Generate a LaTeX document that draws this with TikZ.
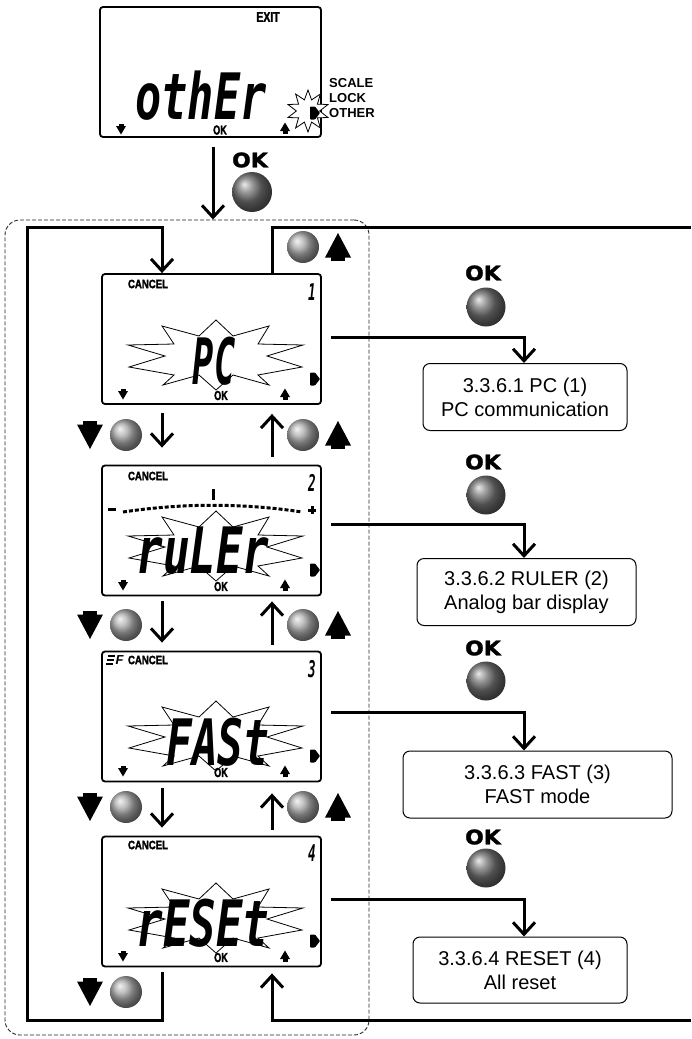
\documentclass[tikz,border=0pt]{standalone}
\usepackage{fontspec}
\setmainfont{Liberation Sans}
\newfontfamily\lib{Liberation Sans}
\newfontfamily\heavy{Liberation Sans}[BoldFeatures={FakeBold=2.5}]
\newfontfamily\djv{DejaVu Sans}[BoldFeatures={FakeBold=1.5}]
\newfontfamily\seg{DejaVu Sans Mono}
\usetikzlibrary{arrows.meta,calc,shapes.geometric}

% small icons inside the LCDs
\newcommand\smdn[2]{\begin{scope}[shift={(#1,#2)}]\fill (-2.5,-5.5) rectangle (2.5,-3);\fill (-5,-3) -- (5,-3) -- (0,5.5) -- cycle;\end{scope}}
\newcommand\smup[2]{\begin{scope}[shift={(#1,#2)}]\fill (-2.5,5.5) rectangle (2.5,3);\fill (-5,3) -- (5,3) -- (0,-5.5) -- cycle;\end{scope}}
% big key triangles
\newcommand\mydntri[2]{\begin{scope}[shift={(#1,#2)}]\fill (-7,-14) rectangle (7,-10);\fill (-13,-10.5) -- (13,-10.5) -- (0,14) -- cycle;\end{scope}}
\newcommand\myuptri[2]{\begin{scope}[shift={(#1,#2)}]\fill (-7,14) rectangle (7,10);\fill (-13,10.5) -- (13,10.5) -- (0,-14) -- cycle;\end{scope}}
% key balls
\newcommand\myball[2]{\shade[ball color=black!33] (#1,#2) circle[radius=16];}
\newcommand\okball[2]{\shade[ball color=black!55] (#1,#2) circle[radius=19.5];}
% starburst behind the blinking text
\newcommand\burst[2]{\begin{scope}[shift={(#1,#2)}]\draw[fill=white,line width=0.8pt,line join=miter]
 (0,-34) -- (17,-18) -- (53,-28) -- (42,-10) -- (87,-9) -- (51,2) -- (86,13) -- (42,21) -- (53,31) -- (17,21) -- (0,36)
 -- (-17,21) -- (-53,31) -- (-42,21) -- (-87,13) -- (-51,2) -- (-88,-9) -- (-42,-10) -- (-54,-28) -- (-17,-18) -- cycle;\end{scope}}
% D-shaped indicator
\newcommand\dmark[2]{\fill[rounded corners=0.8pt] (#1-5,#2-6.5) -- (#1,#2-6.5) -- (#1+5,#2) -- (#1,#2+6.5) -- (#1-5,#2+6.5) -- cycle;}
% common LCD segments
\newcommand\lcdcommon[2]{\begin{scope}[shift={(0,#1)}]
 \smdn{123}{120}\node[smok] (#2ok) at (221,121.5) {OK};\smup{285}{120}
 \dmark{315}{105}\end{scope}}

\begin{document}
\begin{tikzpicture}[x=1pt,y=-1pt,
  conn/.style={line width=3pt},
  arr/.style={conn,-{Straight Barb[length=12pt,width=22pt]}},
  lcd/.style={draw,line width=1.8pt,rounded corners=3pt,minimum width=219pt,minimum height=130pt,inner sep=0pt},
  infobox/.style={draw,line width=1pt,rounded corners=7pt,align=center,font=\lib\fontsize{20}{24}\selectfont,inner sep=0pt,minimum height=67pt},
  okbig/.style={font=\djv\bfseries\fontsize{20}{20}\selectfont,xscale=1.1,inner sep=0pt},
  smok/.style={font=\heavy\bfseries\fontsize{13}{13}\selectfont,xscale=0.7,inner sep=0pt},
  cancel/.style={font=\heavy\bfseries\fontsize{12}{12}\selectfont,xscale=0.8,inner sep=0pt},
  segbig/.style={font=\seg\bfseries\itshape\fontsize{64}{64}\selectfont,inner sep=0pt,anchor=base},
  segnum/.style={font=\seg\bfseries\itshape\fontsize{23}{23}\selectfont,xscale=0.55,inner sep=0pt,anchor=base},
  sidelbl/.style={font=\lib\bfseries\fontsize{13}{13}\selectfont,inner sep=0pt,anchor=west},
 ]
\useasboundingbox (0,0) rectangle (691,1039);

% dashed frame
\node[draw=black!85,line width=0.9pt,dash pattern=on 4pt off 2pt,rounded corners=15pt,minimum width=364pt,minimum height=815pt,inner sep=0pt] (frame) at (187,627.5) {};

% helper coordinates
\coordinate (tx) at (213,0);
\coordinate (dx) at (162,0);
\coordinate (ux) at (272,0);
\coordinate (lx) at (27,0);
\coordinate (rx) at (691,0);
\coordinate (ty) at (0,227);
\coordinate (by) at (0,1020);
\coordinate (col) at (524,0);

% ---------- top LCD ----------
\node[lcd,minimum width=221pt] (lcd0) at (210.5,72) {};
\node[font=\heavy\bfseries\fontsize{14}{14}\selectfont,xscale=0.75,inner sep=0pt] (exit0) at (268,17) {EXIT};
\node[segbig,xscale=0.68] (txt0) at (201,119) {othEr};
\smdn{121}{129}\node[smok] (ok0s) at (220,130) {OK};\smup{285}{128}
\node[star,star points=10,star point ratio=1.8,minimum size=42pt,draw,fill=white,line width=0.8pt,inner sep=0pt] (burst0) at (308,111) {};
\dmark{315}{113}
\node[sidelbl] (scale) at (329,83) {SCALE};
\node[sidelbl] (lock) at (329,98) {LOCK};
\node[sidelbl] (other) at (329,113) {OTHER};

\draw[arr] ($(lcd0.south -| tx)+(0,9)$) -- (frame.north -| tx);
\node[okbig] (ok0) at (250,160) {OK};
\shade[ball color=black!55] (252,192) circle[radius=20];

% ---------- LCD 1 ----------
\node[lcd] (lcd1) at (211.5,339) {};
\burst{216}{354}
\node[segbig,xscale=0.55] (txt1) at (214,384) {PC};
\node[cancel] (cn1) at (148,284) {CANCEL};
\node[segnum] (n1) at (312,300) {1};
\lcdcommon{274}{l1}

% ---------- LCD 2 ----------
\node[lcd] (lcd2) at (211.5,530.5) {};
\draw[line width=3pt,dash pattern=on 4pt off 2pt] (123,512) .. controls (183,503) and (243,503) .. (302,512);
\fill (211.5,489) rectangle (215,500);
\fill (108,507.5) rectangle (116,510.5);
\fill (308,508.5) rectangle (316,511.5);
\fill (310.5,506) rectangle (313.5,514);
\burst{216}{545}
\node[segbig,xscale=0.69] (txt2) at (203,573) {ruLEr};
\node[cancel] (cn2) at (148,476) {CANCEL};
\node[segnum] (n2) at (312,491) {2};
\lcdcommon{465}{l2}

% ---------- LCD 3 ----------
\node[lcd] (lcd3) at (211.5,716.5) {};
\burst{216}{735}
\node[segbig,xscale=0.67] (txt3) at (218,765) {FASt};
\node[cancel] (cn3) at (148,660) {CANCEL};
\draw[line width=1.8pt] (108,656) -- (115,656) (107,660) -- (114,660) (106,664) -- (113,664);
\node[font=\heavy\bfseries\itshape\fontsize{13}{13}\selectfont,inner sep=0pt] (f3) at (119.5,660) {F};
\node[segnum] (n3) at (312,677) {3};
\lcdcommon{651}{l3}

% ---------- LCD 4 ----------
\node[lcd] (lcd4) at (211.5,901.5) {};
\burst{216}{917}
\node[segbig,xscale=0.69] (txt4) at (203,946) {rESEt};
\node[cancel] (cn4) at (148,845) {CANCEL};
\node[segnum] (n4) at (312,861) {4};
\lcdcommon{836}{l4}

% ---------- loops ----------
\draw[arr] ($(lcd4.south -| dx)+(0,5)$) -- (dx |- by) -- (lx |- by) -- (lx |- ty) -- (dx |- ty) -- (lcd1.north -| dx);
\draw[conn] (lcd1.north -| ux) -- (ux |- ty) -- (rx |- ty);
\draw[arr] (rx |- by) -- (ux |- by) -- ($(lcd4.south -| ux)+(0,6)$);
\myball{303}{247}\myuptri{338}{247}

% ---------- between LCDs ----------
\draw[arr] ($(lcd1.south -| dx)+(0,8)$) -- ($(lcd2.north -| dx)+(0,-17)$);
\draw[arr] ($(lcd2.north -| ux)+(0,-8)$) -- ($(lcd1.south -| ux)+(0,9)$);
\mydntri{90}{435}\myball{126}{435}\myball{303}{435}\myuptri{338}{435}

\draw[arr] ($(lcd2.south -| dx)+(0,5)$) -- ($(lcd3.north -| dx)+(0,-8)$);
\draw[arr] ($(lcd3.north -| ux)+(0,-6)$) -- ($(lcd2.south -| ux)+(0,5)$);
\mydntri{90}{625}\myball{126}{625}\myball{303}{625}\myuptri{338}{625}

\draw[arr] ($(lcd3.south -| dx)+(0,6)$) -- ($(lcd4.north -| dx)+(0,-8)$);
\draw[arr] ($(lcd4.north -| ux)+(0,-6)$) -- ($(lcd3.south -| ux)+(0,11)$);
\mydntri{90}{807}\myball{126}{807}\myball{303}{807}\myuptri{338}{807}

\mydntri{90}{992}\myball{126}{992}

% ---------- right column ----------
\node[infobox,minimum width=204pt] (b1) at (525,397) {3.3.6.1 PC (1)\\PC communication};
\node[infobox,minimum width=219pt] (b2) at (526.5,592) {3.3.6.2 RULER (2)\\Analog bar display};
\node[infobox,minimum width=269pt] (b3) at (537.5,784.5) {3.3.6.3 FAST (3)\\FAST mode};
\node[infobox,minimum width=214pt,minimum height=66pt] (b4) at (520,970) {3.3.6.4 RESET (4)\\All reset};

\node[okbig] (ok1) at (483,273) {OK}; \okball{486}{307}
\node[okbig] (ok2) at (483,462) {OK}; \okball{486}{495}
\node[okbig] (ok3) at (483,648) {OK}; \okball{486}{681}
\node[okbig] (ok4) at (483,837) {OK}; \okball{486}{868}

\draw[arr] ($(lcd1.east)+(9,-2)$) -| (b1.north -| col);
\draw[arr] ($(lcd2.east)+(9,-6.5)$) -| (b2.north -| col);
\draw[arr] ($(lcd3.east)+(9,-4.5)$) -| (b3.north -| col);
\draw[arr] ($(lcd4.east)+(9,-2.5)$) -| (b4.north -| col);
\end{tikzpicture}
\end{document}
